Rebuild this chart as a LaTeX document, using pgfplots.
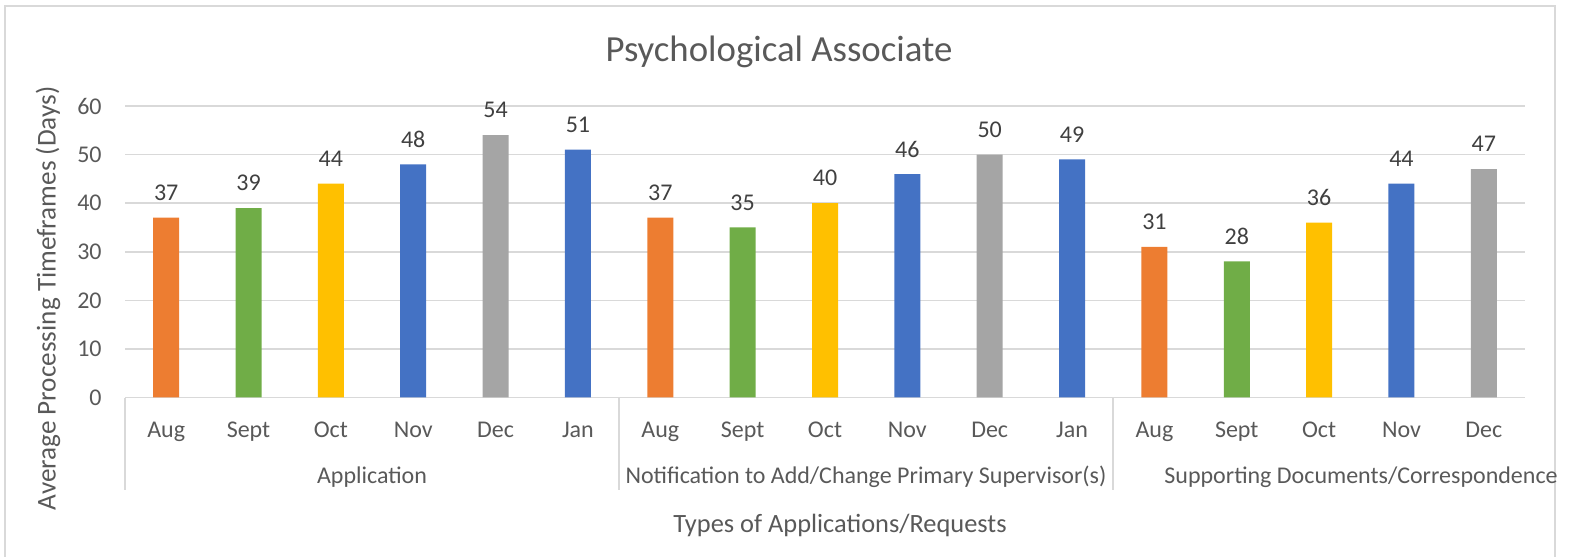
\documentclass[border=0pt]{standalone}
\usepackage{fontspec}
\setmainfont{Carlito}
\usepackage{pgfplots}
\pgfplotsset{compat=1.18}

\definecolor{cAug}{HTML}{ED7D31}
\definecolor{cSep}{HTML}{70AD47}
\definecolor{cOct}{HTML}{FFC000}
\definecolor{cNov}{HTML}{4472C4}
\definecolor{cDec}{HTML}{A5A5A5}
\definecolor{gridgray}{HTML}{D9D9D9}
\definecolor{txtgray}{HTML}{595959}
\definecolor{lblgray}{HTML}{404040}

\newcommand{\lbl}{\fontsize{12}{14}\selectfont}

\begin{document}
\begin{tikzpicture}
\path[use as bounding box] (0,0) rectangle (785pt,278.5pt);
\draw[gridgray, line width=0.75pt] (2.5pt,-2pt) rectangle (777.5pt,275.5pt);

\begin{axis}[
    at={(62.5pt,79.75pt)}, anchor=south west,
    scale only axis, width=700pt, height=145.75pt,
    ybar, bar width=13pt, bar shift=0pt,
    xmin=-0.5, xmax=16.5, ymin=0, ymax=60,
    ytick={0,10,...,60},
    xtick={0,...,16},
    xticklabels={Aug,Sept,Oct,Nov,Dec,Jan,Aug,Sept,Oct,Nov,Dec,Jan,Aug,Sept,Oct,Nov,Dec},
    axis line style={draw=none},
    tick style={draw=none},
    ymajorgrids, grid style={gridgray, line width=0.75pt},
    /pgf/number format/assume math mode=true,
    xticklabel style={font=\lbl, text=txtgray, anchor=base, yshift=-15.5pt},
    yticklabel style={font=\lbl, text=txtgray, anchor=east, inner sep=0pt, xshift=-11.5pt},
    nodes near coords,
    every node near coord/.append style={font=\lbl, text=lblgray, anchor=center, yshift=12.5pt},
]
\addplot[fill=cAug, draw=none] coordinates {(0,37) (6,37) (12,31)};
\addplot[fill=cSep, draw=none] coordinates {(1,39) (7,35) (13,28)};
\addplot[fill=cOct, draw=none] coordinates {(2,44) (8,40) (14,36)};
\addplot[fill=cNov, draw=none] coordinates {(3,48) (5,51) (9,46) (11,49) (15,44)};
\addplot[fill=cDec, draw=none] coordinates {(4,54) (10,50) (16,47)};
\end{axis}

% group separators below the axis
\foreach \xx in {62.5pt,309.5pt,556.5pt}
  \draw[gridgray, line width=0.75pt] (\xx,79.5pt) -- (\xx,33.5pt);

\node[font=\lbl, text=txtgray] at (186pt,40pt) {Application};
\node[font=\lbl, text=txtgray] at (433pt,40pt) {Notification to Add/Change Primary Supervisor(s)};
\node[font=\lbl, text=txtgray, anchor=west, inner sep=0pt] at (582pt,40pt) {Supporting Documents/Correspondence};

\node[font=\fontsize{13.2}{15}\selectfont, text=txtgray] at (420pt,16pt) {Types of Applications/Requests};
\node[font=\fontsize{13.6}{15}\selectfont, text=txtgray, rotate=90] at (24pt,129.25pt) {Average Processing Timeframes (Days)};
\node[font=\fontsize{18.4}{21}\selectfont, text=txtgray] at (389.5pt,252.5pt) {Psychological Associate};
\end{tikzpicture}
\end{document}
